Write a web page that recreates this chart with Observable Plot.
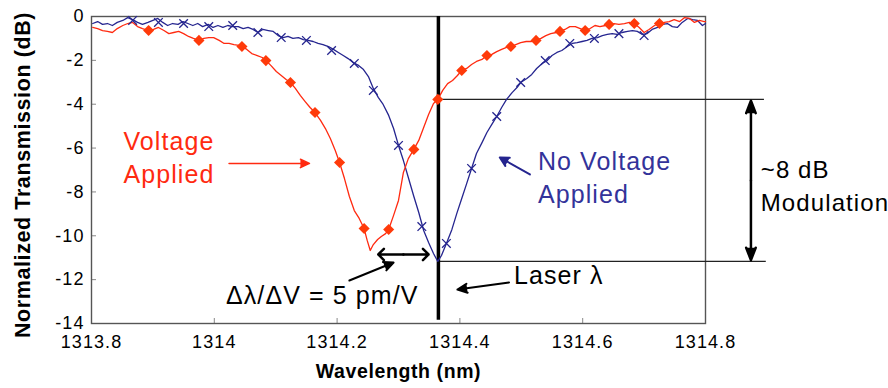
<!DOCTYPE html>
<html><head><meta charset="utf-8">
<script src="https://cdn.jsdelivr.net/npm/d3@7"></script>
<script src="https://cdn.jsdelivr.net/npm/@observablehq/plot@0.6"></script>
<style>body{margin:0;background:#fff} g[font-weight="bold"]{letter-spacing:0.6px}</style>
</head><body><div id="chart"></div>
<script>
// Axis ticks
const xTicks = [1313.8, 1314, 1314.2, 1314.4, 1314.6, 1314.8];
const yTicks = [0, -2, -4, -6, -8, -10, -12, -14];
const xTitle = "Wavelength (nm)";
const yTitle = "Normalized Transmission (dB)";

// "No Voltage Applied" trace: [wavelength nm, transmission dB]
const noVoltage = [
[1313.802,-0.32],[1313.810,-0.23],[1313.818,-0.36],[1313.826,-0.32],[1313.834,-0.41],[1313.842,-0.27],
[1313.851,-0.18],[1313.859,-0.05],[1313.867,-0.14],[1313.875,-0.27],[1313.883,-0.36],[1313.892,-0.27],
[1313.900,-0.18],[1313.908,-0.09],[1313.916,-0.27],[1313.924,-0.41],[1313.932,-0.32],[1313.941,-0.36],
[1313.949,-0.23],[1313.957,-0.32],[1313.965,-0.41],[1313.973,-0.32],[1313.981,-0.46],[1313.990,-0.36],
[1313.998,-0.50],[1314.006,-0.41],[1314.014,-0.50],[1314.022,-0.41],[1314.030,-0.46],[1314.039,-0.46],
[1314.047,-0.55],[1314.055,-0.50],[1314.063,-0.59],[1314.071,-0.73],[1314.079,-0.59],[1314.088,-0.64],
[1314.096,-0.68],[1314.104,-0.87],[1314.112,-0.96],[1314.120,-0.91],[1314.128,-1.00],[1314.137,-0.96],
[1314.145,-1.05],[1314.153,-1.09],[1314.161,-1.14],[1314.169,-1.23],[1314.177,-1.28],[1314.186,-1.37],
[1314.194,-1.50],[1314.202,-1.64],[1314.210,-1.78],[1314.218,-1.92],[1314.226,-2.10],[1314.235,-2.23],
[1314.243,-2.42],[1314.251,-2.74],[1314.259,-3.28],[1314.267,-3.69],[1314.275,-4.01],[1314.284,-4.51],
[1314.292,-5.11],[1314.300,-5.88],[1314.308,-6.57],[1314.316,-7.34],[1314.325,-8.21],[1314.333,-8.94],
[1314.341,-9.76],[1314.349,-10.31],[1314.357,-10.81],[1314.364,-11.17],[1314.370,-10.90],[1314.378,-10.35],
[1314.387,-9.71],[1314.395,-8.98],[1314.403,-8.30],[1314.411,-7.62],[1314.419,-6.93],[1314.427,-6.25],
[1314.436,-5.75],[1314.444,-5.29],[1314.452,-4.92],[1314.460,-4.56],[1314.468,-4.15],[1314.476,-3.78],
[1314.485,-3.47],[1314.493,-3.24],[1314.499,-3.01],[1314.509,-2.83],[1314.517,-2.64],[1314.525,-2.37],
[1314.534,-2.14],[1314.542,-2.01],[1314.550,-1.78],[1314.558,-1.64],[1314.566,-1.55],[1314.575,-1.37],
[1314.583,-1.23],[1314.591,-1.19],[1314.599,-1.14],[1314.607,-1.09],[1314.615,-1.00],[1314.624,-0.96],
[1314.632,-0.87],[1314.640,-0.82],[1314.648,-0.78],[1314.656,-0.82],[1314.664,-0.73],[1314.673,-0.68],
[1314.681,-0.64],[1314.689,-0.68],[1314.697,-0.82],[1314.705,-0.78],[1314.713,-0.59],[1314.722,-0.50],
[1314.730,-0.36],[1314.738,-0.32],[1314.746,-0.46],[1314.754,-0.50],[1314.762,-0.27],[1314.771,-0.09],
[1314.779,-0.14],[1314.787,-0.18],[1314.795,-0.41],[1314.800,-0.32]
];
const noVoltageMarks = [
[1313.867,-0.18],[1313.909,-0.27],[1313.950,-0.32],[1313.991,-0.46],[1314.030,-0.41],[1314.071,-0.73],
[1314.109,-0.96],[1314.150,-1.09],[1314.191,-1.55],[1314.228,-2.14],[1314.259,-3.37],[1314.300,-5.88],
[1314.338,-9.58],[1314.378,-10.35],[1314.419,-6.93],[1314.460,-4.56],[1314.499,-3.01],[1314.539,-2.01],
[1314.579,-1.23],[1314.619,-1.00],[1314.659,-0.78],[1314.700,-0.87]
];

// "Voltage Applied" trace
const voltage = [
[1313.802,-0.50],[1313.810,-0.55],[1313.818,-0.64],[1313.826,-0.68],[1313.834,-0.73],[1313.842,-0.55],
[1313.851,-0.41],[1313.859,-0.32],[1313.867,-0.27],[1313.875,-0.46],[1313.883,-0.55],[1313.893,-0.64],
[1313.901,-0.59],[1313.909,-0.50],[1313.918,-0.64],[1313.926,-0.78],[1313.934,-0.73],[1313.942,-0.68],
[1313.950,-0.78],[1313.958,-0.91],[1313.966,-1.00],[1313.975,-1.09],[1313.983,-1.00],[1313.991,-0.96],
[1313.999,-0.96],[1314.008,-1.09],[1314.016,-1.23],[1314.024,-1.23],[1314.032,-1.28],[1314.040,-1.32],
[1314.045,-1.37],[1314.053,-1.50],[1314.061,-1.69],[1314.070,-1.78],[1314.078,-1.87],[1314.084,-2.01],
[1314.092,-2.23],[1314.101,-2.51],[1314.109,-2.69],[1314.117,-2.87],[1314.124,-3.01],[1314.132,-3.28],
[1314.140,-3.60],[1314.148,-3.88],[1314.156,-4.15],[1314.164,-4.38],[1314.173,-4.74],[1314.181,-5.11],
[1314.189,-5.56],[1314.197,-6.11],[1314.204,-6.66],[1314.212,-7.39],[1314.220,-8.21],[1314.228,-8.85],
[1314.236,-9.21],[1314.244,-9.67],[1314.249,-10.21],[1314.254,-10.67],[1314.259,-10.40],[1314.266,-10.17],
[1314.272,-10.03],[1314.279,-9.90],[1314.284,-9.71],[1314.292,-9.07],[1314.300,-8.39],[1314.308,-7.11],
[1314.316,-6.48],[1314.325,-6.06],[1314.333,-5.65],[1314.341,-5.06],[1314.349,-4.47],[1314.357,-3.97],
[1314.364,-3.78],[1314.372,-3.37],[1314.380,-3.06],[1314.388,-2.92],[1314.396,-2.69],[1314.403,-2.46],
[1314.411,-2.37],[1314.419,-2.19],[1314.427,-2.05],[1314.436,-1.96],[1314.444,-1.78],[1314.452,-1.73],
[1314.460,-1.60],[1314.468,-1.50],[1314.476,-1.41],[1314.483,-1.37],[1314.491,-1.28],[1314.499,-1.19],
[1314.508,-1.14],[1314.516,-1.14],[1314.524,-1.09],[1314.532,-1.00],[1314.540,-0.87],[1314.548,-0.78],
[1314.557,-0.73],[1314.563,-0.68],[1314.571,-0.59],[1314.579,-0.46],[1314.588,-0.46],[1314.596,-0.55],
[1314.604,-0.64],[1314.612,-0.55],[1314.620,-0.41],[1314.628,-0.46],[1314.637,-0.41],[1314.643,-0.36],
[1314.651,-0.32],[1314.659,-0.36],[1314.668,-0.32],[1314.676,-0.27],[1314.684,-0.32],[1314.692,-0.50],
[1314.700,-0.73],[1314.708,-0.59],[1314.717,-0.41],[1314.725,-0.32],[1314.733,-0.27],[1314.741,-0.23],
[1314.749,-0.14],[1314.758,-0.23],[1314.766,-0.05],[1314.774,-0.09],[1314.782,-0.27],[1314.790,-0.18],
[1314.798,-0.23],[1314.800,-0.23]
];
const voltageMarks = [
[1313.893,-0.64],[1313.975,-1.09],[1314.045,-1.37],[1314.084,-2.01],[1314.124,-3.01],[1314.164,-4.38],
[1314.204,-6.66],[1314.244,-9.67],[1314.284,-9.71],[1314.325,-6.06],[1314.364,-3.78],[1314.403,-2.46],
[1314.444,-1.78],[1314.483,-1.37],[1314.524,-1.09],[1314.563,-0.68],[1314.604,-0.64],[1314.643,-0.36],
[1314.684,-0.32],[1314.725,-0.32]
];

// Annotations (data coordinates)
const laserWl = 1314.365;
const laserSpanDb = [0, -13.85];
const modLevelsDb = [-3.78, -11.17];
const modLevelEndWl = [1314.896, 1314.899];
const modArrowWl = 1314.874;
const modArrowDb = [-3.84, -11.11];
const shiftArrowDb = -10.85;
const shiftArrowWl = [1314.267, 1314.349];
const voltageArrow = [[1314.024, -6.70], [1314.155, -6.70]];
const noVoltageArrow = [[1314.514, -7.20], [1314.465, -6.43]];
const slopeArrow = [[1314.220, -12.04], [1314.292, -11.22]];
const laserArrow = [[1314.480, -12.13], [1314.396, -12.45]];
const voltageLabel = [1313.852, -5.29, "Voltage\nApplied"];
const noVoltageLabel = [1314.527, -6.20, "No Voltage\nApplied"];
const modLabel = [1314.890, -6.57, "~8 dB\nModulation"];
const slopeLabel = [1314.019, -12.31, "Δλ/ΔV = 5 pm/V"];
const laserLabel = [1314.488, -11.40, "Laser λ"];

const RED = "#ff2a10";
const REDMARK = "#ff3a0a";
const BLUE = "#25258f";
const BLUETEXT = "#33339a";

const modLines = modLevelsDb.map((db, i) => ({db, x2: modLevelEndWl[i]}));
const modMid = (modArrowDb[0] + modArrowDb[1]) / 2;
const shiftMid = (shiftArrowWl[0] + shiftArrowWl[1]) / 2;

const arrowOpts = (a) => ({x1: () => a[0][0], y1: () => a[0][1], x2: () => a[1][0], y2: () => a[1][1]});
// multi-line text in Plot shifts the first line by 0.71*(lineHeight-1) em; compensate with dy
const label = (l, opts) => {
  const fs = opts.fontSize ?? 25, lh = opts.lineHeight ?? 1;
  return Plot.text([l], {x: d => d[0], y: d => d[1], text: d => d[2],
    textAnchor: "start", lineAnchor: "top", fontSize: fs, lineHeight: lh,
    dy: l[2].includes("\n") ? -0.71 * (lh - 1) * fs : 0, ...opts});
};

const chart = Plot.plot({
  width: 888, height: 388,
  marginLeft: 91, marginRight: 183, marginTop: 16, marginBottom: 65,
  style: {fontFamily: '"Liberation Sans", Arial, Helvetica, sans-serif', fontSize: "18px",
    background: "#fff", color: "#000", letterSpacing: "1.1px"},
  x: {domain: [1313.8, 1314.8]},
  y: {domain: [-14, 0]},
  marks: [
    Plot.axisX(xTicks, {tickSize: -5, tickPadding: 17, tickFormat: d => String(d), label: null, stroke: "#888", fontSize: 18}),
    Plot.axisY(yTicks, {tickSize: -5, tickPadding: 12, tickFormat: d => String(d), label: null, stroke: "#888", fontSize: 18}),
    Plot.frame({stroke: "#555", strokeWidth: 1.4}),
    Plot.text([yTitle], {frameAnchor: "left", text: d => d, rotate: -90, dx: -77, dy: 5,
      textAnchor: "middle", lineAnchor: "top", fontWeight: "bold", fontSize: 21.5}),
    Plot.text([xTitle], {frameAnchor: "bottom", text: d => d, dy: 41,
      textAnchor: "middle", lineAnchor: "top", fontWeight: "bold", fontSize: 19.5}),
    Plot.ruleY(modLines, {y: d => d.db, x1: () => laserWl, x2: d => d.x2, stroke: "#222", strokeWidth: 1.2}),
    Plot.ruleX([laserWl], {x: d => d, y1: () => laserSpanDb[0], y2: () => laserSpanDb[1], stroke: "#000", strokeWidth: 3.5}),
    Plot.line(noVoltage, {x: d => d[0], y: d => d[1], stroke: BLUE, strokeWidth: 1.3}),
    Plot.line(voltage, {x: d => d[0], y: d => d[1], stroke: RED, strokeWidth: 1.3}),
    Plot.dot(noVoltageMarks, {x: d => d[0], y: d => d[1], symbol: "times", r: 4, stroke: BLUE, strokeWidth: 1.3}),
    Plot.dot(voltageMarks, {x: d => d[0], y: d => d[1], symbol: "diamond2", r: 5, fill: REDMARK, stroke: "none"}),
    // pointer arrows
    Plot.arrow([0], {...arrowOpts(voltageArrow), stroke: RED, fill: RED, strokeWidth: 1.5, headLength: 10, headAngle: 50}),
    Plot.arrow([0], {...arrowOpts(noVoltageArrow), stroke: BLUE, fill: BLUE, strokeWidth: 2, headLength: 7.5, headAngle: 55}),
    Plot.arrow([0], {...arrowOpts(slopeArrow), stroke: "#000", fill: "#000", strokeWidth: 2, headLength: 8, headAngle: 50}),
    Plot.arrow([0], {...arrowOpts(laserArrow), stroke: "#000", fill: "#000", strokeWidth: 2, headLength: 8, headAngle: 50}),
    // wavelength shift double arrow
    Plot.arrow(shiftArrowWl, {x1: () => shiftMid, x2: d => d, y1: () => shiftArrowDb, y2: () => shiftArrowDb,
      stroke: "#000", strokeWidth: 2.5, headLength: 4.8, headAngle: 90}),
    // modulation depth double arrow
    Plot.arrow(modArrowDb, {x1: () => modArrowWl, x2: () => modArrowWl, y1: () => modMid, y2: d => d,
      stroke: "#000", fill: "#000", strokeWidth: 2.5, headLength: 8, headAngle: 42}),
    label(voltageLabel, {fill: RED, lineHeight: 1.33}),
    label(noVoltageLabel, {fill: BLUETEXT, lineHeight: 1.33}),
    label(modLabel, {fill: "#000", lineHeight: 1.4, fontSize: 24}),
    label(slopeLabel, {fill: "#000"}),
    label(laserLabel, {fill: "#000"})
  ]
});
document.getElementById("chart").appendChild(chart);
</script>
</body></html>
